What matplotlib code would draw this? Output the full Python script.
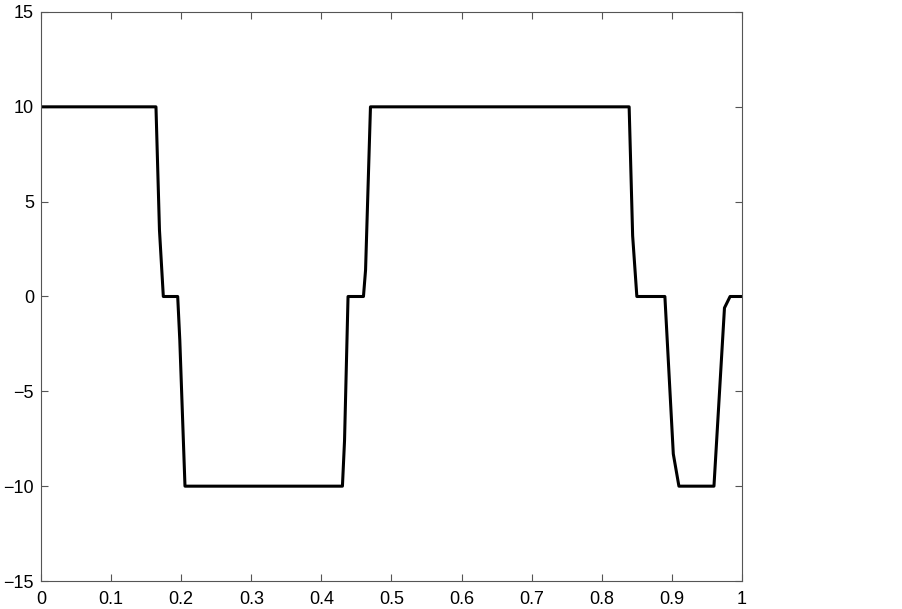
import matplotlib.pyplot as plt

plt.rcParams['font.family'] = ['Liberation Sans', 'DejaVu Sans']

# breakpoints
t = [0.0, 0.164, 0.169, 0.1745, 0.195, 0.198, 0.2054, 0.430, 0.433, 0.438,
     0.460, 0.463, 0.470, 0.839, 0.844, 0.850, 0.890, 0.902, 0.910, 0.960,
     0.975, 0.983, 1.0]
v = [10, 10, 3.5, 0, 0, -2.3, -10, -10, -7.6, 0,
     0, 1.4, 10, 10, 3.2, 0, 0, -8.3, -10, -10,
     -0.6, 0, 0]

xticks = [0, 0.1, 0.2, 0.3, 0.4, 0.5, 0.6, 0.7, 0.8, 0.9, 1]
xlabels = ['0', '0.1', '0.2', '0.3', '0.4', '0.5', '0.6', '0.7', '0.8', '0.9', '1']
yticks = [-15, -10, -5, 0, 5, 10, 15]

fig = plt.figure(figsize=(9.03, 6.09), dpi=100)
ax = fig.add_axes([41 / 903, 1 - 581 / 609, (742 - 41) / 903, (581 - 12) / 609])
ax.plot(t, v, color='black', linewidth=2.2)

ax.set_xlim(0, 1)
ax.set_ylim(-15, 15)
ax.set_xticks(xticks)
ax.set_xticklabels(xlabels)
ax.set_yticks(yticks)
ax.tick_params(direction='in', top=True, right=True, length=5, width=0.8,
               color='#555555', labelsize=13)
ax.tick_params(axis='x', pad=7)
ax.tick_params(axis='y', pad=5)
for s in ax.spines.values():
    s.set_color('#555555')
    s.set_linewidth(0.8)

fig.savefig('out.png', dpi=100)
